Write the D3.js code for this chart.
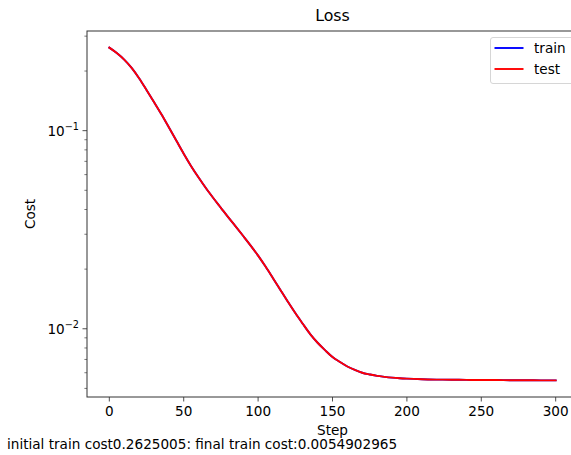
<!DOCTYPE html>
<html>
<head>
<meta charset="utf-8">
<script src="https://cdn.jsdelivr.net/npm/d3@7/dist/d3.min.js"></script>
<style>
  html, body { margin: 0; padding: 0; background: #fff; overflow: hidden; }
  text { font-family: "DejaVu Sans", sans-serif; fill: #000; }
</style>
</head>
<body>
<svg id="chart" width="571" height="455"></svg>
<script>
// Training history sampled every 5 steps (cost on a log scale)
const steps = [0, 5, 10, 15, 20, 25, 30, 35, 40, 45, 50, 55, 60, 65, 70, 75, 80, 85, 90, 95,
  100, 105, 110, 115, 120, 125, 130, 135, 140, 145, 150, 155, 160, 165, 170, 175, 180, 185, 190, 195,
  200, 210, 220, 230, 240, 250, 260, 270, 280, 290, 300];
const trainCost = [0.2625, 0.2465, 0.2285, 0.2075, 0.1840, 0.1605, 0.1395, 0.1210, 0.1040, 0.0892,
  0.0765, 0.0662, 0.0580, 0.0512, 0.0456, 0.0408, 0.0365, 0.0328, 0.0294, 0.0263,
  0.0234, 0.0206, 0.0180, 0.0157, 0.0137, 0.0120, 0.0106, 0.0094, 0.0085, 0.0078,
  0.0072, 0.0068, 0.00645, 0.0062, 0.0060, 0.00588, 0.00578, 0.00572, 0.00567, 0.00563,
  0.00560, 0.00556, 0.00554, 0.00553, 0.00552, 0.00551, 0.00551, 0.00550, 0.00550, 0.00549, 0.00549];
const testCost = trainCost.slice();
const xTicks = [0, 50, 100, 150, 200, 250, 300];
const seriesNames = ["train", "test"];
const seriesColors = ["#0000ff", "#ff0000"];
const initialCost = "0.2625005";
const finalCost = "0.0054902965";

const svg = d3.select("#chart");
const plot = { left: 87, right: 578, top: 31, bottom: 397 };
const fs = "13.6px";

// x: data range with 5% margins
const xMin = d3.min(steps), xMax = d3.max(steps);
const xPad = (xMax - xMin) * 0.05;
const x = d3.scaleLinear().domain([xMin - xPad, xMax + xPad]).range([plot.left, plot.right]);

// y: log scale with 5% margins in log space
const all = trainCost.concat(testCost);
const lo = Math.log10(d3.min(all)), hi = Math.log10(d3.max(all));
const lPad = (hi - lo) * 0.05;
const y = d3.scaleLog().domain([Math.pow(10, lo - lPad), Math.pow(10, hi + lPad)]).range([plot.bottom, plot.top]);

const tickColor = "#222";

// x ticks
const xg = svg.append("g");
xTicks.forEach(t => {
  xg.append("line").attr("x1", x(t)).attr("x2", x(t))
    .attr("y1", plot.bottom).attr("y2", plot.bottom + 4.5)
    .attr("stroke", tickColor).attr("stroke-width", 0.8);
  xg.append("text").attr("x", x(t)).attr("y", plot.bottom + 18.5)
    .attr("text-anchor", "middle").style("font-size", fs).text(t);
});

// y ticks: majors labelled as powers of ten, minors unlabelled
const yg = svg.append("g");
y.ticks().forEach(t => {
  const e = Math.log10(t);
  const major = Math.abs(e - Math.round(e)) < 1e-9;
  yg.append("line").attr("x1", plot.left).attr("x2", plot.left - (major ? 4.5 : 2.6))
    .attr("y1", y(t)).attr("y2", y(t))
    .attr("stroke", tickColor).attr("stroke-width", major ? 0.8 : 0.6);
  if (major) {
    const lab = yg.append("text").attr("x", plot.left - 8).attr("y", y(t) + 5)
      .attr("text-anchor", "end").style("font-size", fs);
    lab.append("tspan").text("10");
    lab.append("tspan").attr("dy", -5.8).style("font-size", "9.7px").text("\u2212" + Math.abs(Math.round(e)));
  }
});

// lines
const line = d3.line().x((d, i) => x(steps[i])).y(d => y(d)).curve(d3.curveMonotoneX);
[trainCost, testCost].forEach((s, k) => {
  svg.append("path").datum(s).attr("d", line)
    .attr("fill", "none").attr("stroke", seriesColors[k]).attr("stroke-width", 1.9)
    .attr("stroke-linecap", "square");
});

// frame
svg.append("rect").attr("x", plot.left).attr("y", plot.top)
  .attr("width", plot.right - plot.left).attr("height", plot.bottom - plot.top)
  .attr("fill", "none").attr("stroke", "#333").attr("stroke-width", 1);

// titles
svg.append("text").attr("x", (plot.left + plot.right) / 2).attr("y", 21)
  .attr("text-anchor", "middle").style("font-size", "15.8px").text("Loss");
svg.append("text").attr("x", (plot.left + plot.right) / 2).attr("y", 435)
  .attr("text-anchor", "middle").style("font-size", fs).text("Step");
svg.append("text").attr("transform", `translate(35,${(plot.top + plot.bottom) / 2}) rotate(-90)`)
  .attr("text-anchor", "middle").style("font-size", fs).text("Cost");
svg.append("text").attr("x", 7).attr("y", 449).style("font-size", fs)
  .text("initial train cost" + initialCost + ": final train cost:" + finalCost);

// legend
const lg = svg.append("g").attr("transform", "translate(490.5,37.5)");
lg.append("rect").attr("width", 88).attr("height", 46).attr("rx", 2.5)
  .attr("fill", "#fff").attr("fill-opacity", 0.8).attr("stroke", "#d6d6d6").attr("stroke-width", 1);
seriesNames.forEach((n, k) => {
  const yy = 10.5 + k * 21;
  lg.append("line").attr("x1", 4).attr("x2", 33).attr("y1", yy).attr("y2", yy)
    .attr("stroke", seriesColors[k]).attr("stroke-width", 1.9);
  lg.append("text").attr("x", 43.5).attr("y", yy + 4.5).style("font-size", fs).text(n);
});
</script>
</body>
</html>
